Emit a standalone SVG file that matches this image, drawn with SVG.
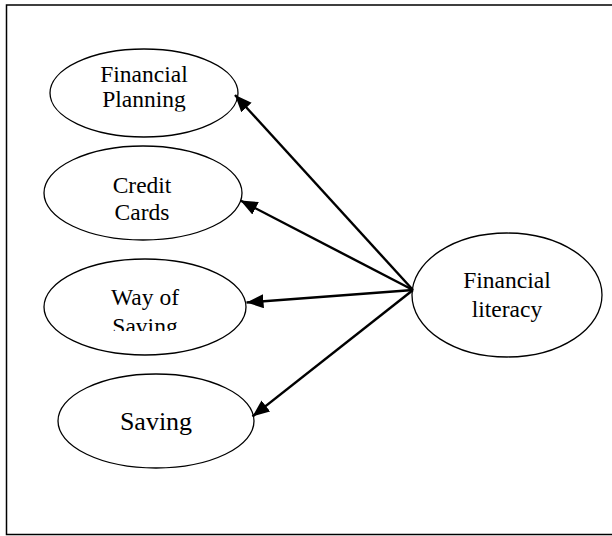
<svg xmlns="http://www.w3.org/2000/svg" width="612" height="536" viewBox="0 0 612 536">
  <style>
    .node ellipse { fill: #ffffff; stroke: #000000; stroke-width: 1.3; }
    .node text { font-family: "Liberation Serif", "Times New Roman", serif; font-size: 23.5px; fill: #000000; text-anchor: middle; }
    .conn line { stroke: #000000; stroke-width: 2.4; }
  </style>
  <defs>
    <marker id="arrow" markerUnits="userSpaceOnUse" markerWidth="20" markerHeight="16" refX="17" refY="7" orient="auto">
      <polygon points="0,0 17,7 0,14" fill="#000000"/>
    </marker>
    <clipPath id="clipPlan"><rect x="40" y="40" width="220" height="71.5"/></clipPath>
    <clipPath id="clipWay"><rect x="40" y="250" width="220" height="81"/></clipPath>
  </defs>
  <rect x="6.5" y="5" width="620" height="529.5" fill="none" stroke="#000000" stroke-width="1.5"/>

  <g id="node-financial-planning" class="node">
    <ellipse cx="144" cy="93" rx="94" ry="44"/>
    <text x="144" y="82" clip-path="url(#clipPlan)"><tspan x="144">Financial</tspan><tspan x="144" y="107">Planning</tspan></text>
  </g>
  <g id="node-credit-cards" class="node">
    <ellipse cx="143" cy="193" rx="99" ry="47"/>
    <text x="142" y="193"><tspan x="142">Credit</tspan><tspan x="142" y="220">Cards</tspan></text>
  </g>
  <g id="node-way-of-saving" class="node">
    <ellipse cx="145" cy="307" rx="101" ry="48"/>
    <text x="145" y="305" clip-path="url(#clipWay)"><tspan x="145">Way of</tspan><tspan x="145" y="334">Saving</tspan></text>
  </g>
  <g id="node-saving" class="node">
    <ellipse cx="156" cy="421" rx="98" ry="47"/>
    <text x="156" y="430" style="font-size:26px">Saving</text>
  </g>
  <g id="node-financial-literacy" class="node">
    <ellipse cx="507" cy="295" rx="95" ry="62"/>
    <text x="507" y="288"><tspan x="507">Financial</tspan><tspan x="507" y="317">literacy</tspan></text>
  </g>

  <g id="connectors" class="conn">
    <line x1="413" y1="290" x2="235" y2="95" marker-end="url(#arrow)"/>
    <line x1="413" y1="290" x2="240.5" y2="200.5" marker-end="url(#arrow)"/>
    <line x1="413" y1="290" x2="246.5" y2="302.5" marker-end="url(#arrow)"/>
    <line x1="413" y1="290" x2="252.5" y2="416.5" marker-end="url(#arrow)"/>
  </g>
</svg>
